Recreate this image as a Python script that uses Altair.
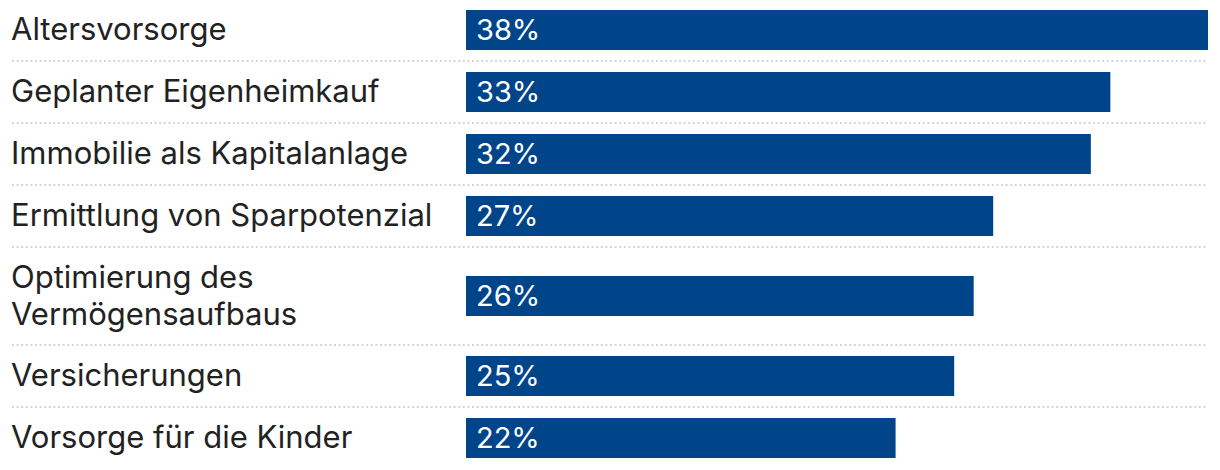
import altair as alt
import pandas as pd

# ---- data -------------------------------------------------------------
labels = [
    "Altersvorsorge",
    "Geplanter Eigenheimkauf",
    "Immobilie als Kapitalanlage",
    "Ermittlung von Sparpotenzial",
    "Optimierung des\nVermögensaufbaus",
    "Versicherungen",
    "Vorsorge für die Kinder",
]
values = [38, 33, 32, 27, 26, 25, 22]

df = pd.DataFrame({"idx": list(range(len(labels))), "label": labels, "value": values})

# ---- style ------------------------------------------------------------
BLUE = "#00448a"
TEXT = "#222222"
SEP = "#d6d6d6"
FONT = "Inter"
W = 1204
ROW = 62
LINE = 36


def row_chart(i):
    n_lines = len(labels[i].split("\n"))
    h = ROW + LINE * (n_lines - 1)
    base = (
        alt.Chart(df)
        .transform_filter(alt.datum.idx == i)
        .transform_calculate(
            lines="split(datum.label, '\\n')", zero="0", txt="datum.value + '%'"
        )
    )
    y = alt.Y("label:N", axis=None, scale=alt.Scale(paddingInner=0, paddingOuter=0))
    xs = alt.Scale(domain=[0, 38], range=[458, 1200], nice=False, zero=True)

    bar = base.mark_bar(size=40, color=BLUE).encode(
        x=alt.X("value:Q", axis=None, scale=xs), y=y
    )
    pct = base.mark_text(
        align="left", baseline="middle", dx=10, dy=1, color="white", font=FONT, fontSize=29
    ).encode(x=alt.X("zero:Q", axis=None, scale=xs), y=y, text="txt:N")
    lab = base.mark_text(
        align="left",
        baseline="middle",
        color=TEXT,
        font=FONT,
        fontSize=31,
        lineHeight=37,
        dy=-(n_lines - 1) * 37 / 2 + 1,
    ).encode(x=alt.value(3), y=y, text="lines:N")

    layers = [bar, pct, lab]
    if i > 0:
        sep = alt.Chart(df).transform_filter(alt.datum.idx == i).mark_rule(
            color=SEP, strokeWidth=2, strokeDash=[2, 2.6]
        ).encode(x=alt.value(4), x2=alt.value(1200), y=alt.value(0))
        layers.insert(0, sep)
    return alt.layer(*layers).properties(width=W, height=h)


chart = (
    alt.vconcat(*[row_chart(i) for i in range(len(labels))], spacing=0, bounds="flush")
    .properties(padding={"top": -9, "left": 0, "right": 0, "bottom": 0})
    .configure_view(stroke=None)
)

chart.save("out.html", embed_options={"renderer": "svg", "actions": False})
